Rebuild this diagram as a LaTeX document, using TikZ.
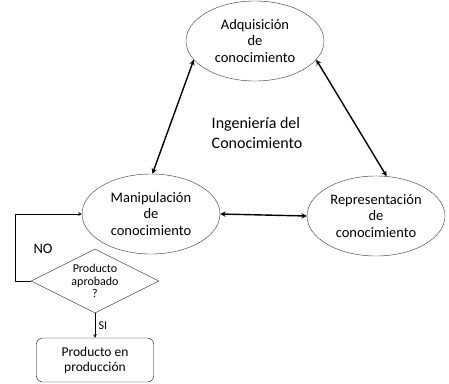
\documentclass[tikz,border=0pt]{standalone}
\usepackage{fontspec}
\setmainfont{Carlito}
\usetikzlibrary{shapes.geometric, arrows}
\tikzstyle{stage} = [ellipse, minimum width=138pt, minimum height=80pt, inner sep=0pt, text centered, draw=black!80, align=center, font=\fontsize{14.5}{16.5}\selectfont]
\tikzstyle{decision} = [diamond, minimum width=128pt, minimum height=64pt, aspect=2, inner sep=0pt, text centered, draw=black!80, align=center, font=\fontsize{12}{12.5}\selectfont]
\tikzstyle{startstop} = [rectangle, rounded corners=6pt, minimum width=117pt, minimum height=44pt, text centered, draw=black, align=center, font=\fontsize{13.5}{15}\selectfont]
\tikzstyle{arrow} = [line width=1.4pt,<->,>=stealth]
\tikzstyle{flow} = [semithick,->,>=stealth]

\begin{document}
\begin{tikzpicture}[x=1pt, y=-1pt, node distance=66pt]
\useasboundingbox (0,0) rectangle (449,383);

\node (adq) [stage] at (255,41) {Adquisición\\de\\conocimiento};
\node (man) [stage] at (151,214) {Manipulación\\de\\conocimiento};
\node (rep) [stage] at (376,216) {Representación\\de\\conocimiento};
\node (title) [align=left, font=\fontsize{16}{20}\selectfont] at (257,133) {Ingeniería del\\Conocimiento};
\node (dec) [decision] at (95,281) {Producto\\aprobado\\?};
\node (prod) [startstop, below of=dec, yshift=-13pt] {Producto en\\producción};
\node (no) [font=\fontsize{14.5}{16}\selectfont] at (43,249) {NO};

\draw [arrow] (adq.197) -- (man.88);
\draw [arrow] (adq.343) -- (rep.75);
\draw [arrow] (man.east) -- (rep.west);
\draw [flow] (dec.west) -- ++(-16,0) |- (man.west);
\draw [flow] (dec.south) -- node[anchor=west, font=\fontsize{12}{14}\selectfont] {SI} (prod.north);

\end{tikzpicture}
\end{document}
